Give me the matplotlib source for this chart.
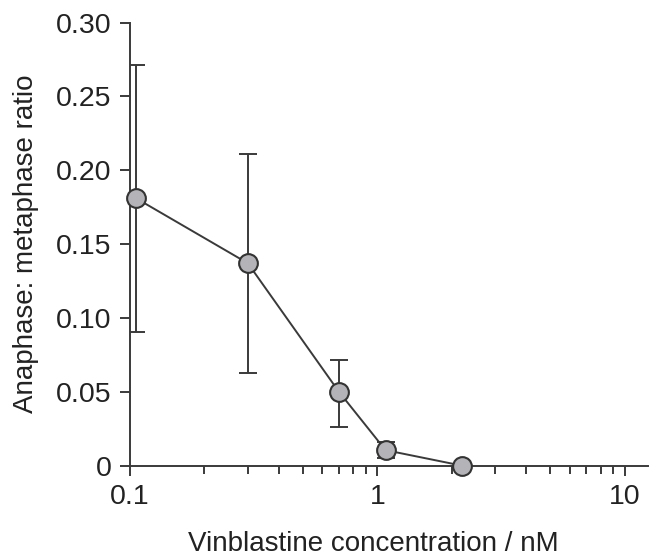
import matplotlib
matplotlib.use('Agg')
import matplotlib.pyplot as plt
import numpy as np
from matplotlib.ticker import FixedLocator, LogLocator, NullFormatter, FixedFormatter

plt.rcParams['font.family'] = ['Liberation Sans', 'DejaVu Sans']

# vinblastine concentration (nM) and anaphase:metaphase ratio
conc = [0.106, 0.30, 0.70, 1.08, 2.20]
ratio = [0.181, 0.137, 0.050, 0.0105, 0.0]
err_hi = [0.271, 0.211, 0.0715, 0.0162, 0.0]
err_lo = [0.0905, 0.0628, 0.026, 0.0055, 0.0]

yticks = [0, 0.05, 0.10, 0.15, 0.20, 0.25, 0.30]
ytick_labels = ['0', '0.05', '0.10', '0.15', '0.20', '0.25', '0.30']
xticks = [0.1, 1, 10]
xtick_labels = ['0.1', '1', '10']

dark = '#3a3a3a'
fig = plt.figure(figsize=(6.59, 5.56), dpi=100)
ax = fig.add_axes([0.197, 0.1625, 0.786, 0.797])

yerr = [np.array(ratio) - np.array(err_lo), np.array(err_hi) - np.array(ratio)]
ax.errorbar(conc, ratio, yerr=yerr, fmt='none', ecolor=dark, elinewidth=1.4,
            capsize=6.3, capthick=1.4, zorder=2)
ax.plot(conc, ratio, '-', color=dark, lw=1.4, zorder=3)
ax.plot(conc, ratio, 'o', ms=13.5, mfc='#b4b4b8', mec='#333333', mew=1.5,
        zorder=4, clip_on=False)

ax.set_xscale('log')
ax.set_xlim(0.1, 12.4)
ax.set_ylim(0, 0.30)

ax.xaxis.set_major_locator(FixedLocator(xticks))
ax.xaxis.set_major_formatter(FixedFormatter(xtick_labels))
ax.xaxis.set_minor_locator(LogLocator(base=10, subs=np.arange(2, 10)))
ax.xaxis.set_minor_formatter(NullFormatter())
ax.yaxis.set_major_locator(FixedLocator(yticks))
ax.yaxis.set_major_formatter(FixedFormatter(ytick_labels))

for side in ['top', 'right']:
    ax.spines[side].set_visible(False)
for side in ['left', 'bottom']:
    ax.spines[side].set_linewidth(1.4)
    ax.spines[side].set_color(dark)

ax.tick_params(axis='both', which='major', length=7, width=1.4, color=dark,
               labelsize=20.5, labelcolor='#222222', pad=6)
ax.tick_params(axis='x', which='minor', length=5.5, width=1.4, color=dark)

ax.set_xlabel('Vinblastine concentration / nM', fontsize=20, color='#222222',
              labelpad=15, x=0.471)
ax.set_ylabel('Anaphase: metaphase ratio', fontsize=20, color='#222222', labelpad=12)

fig.savefig('out.png', dpi=100)
